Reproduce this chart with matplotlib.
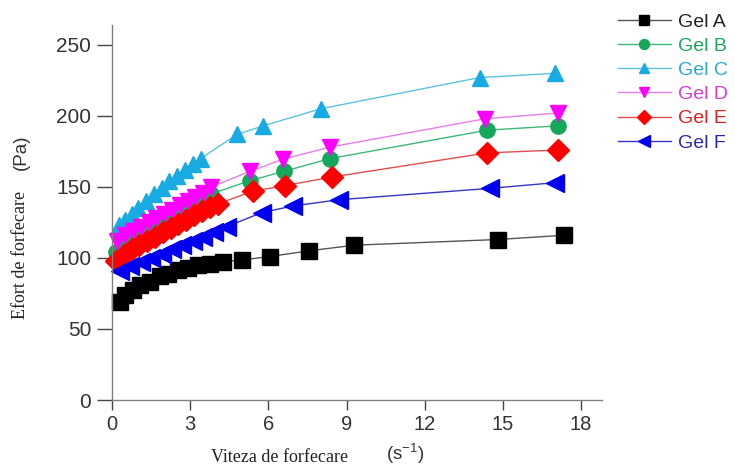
import matplotlib
matplotlib.use("Agg")
import matplotlib.pyplot as plt

# ---- data ----
gel_a_x = [0.3, 0.5, 0.8, 1.07, 1.45, 1.83, 2.15, 2.54, 2.92, 3.3, 3.75, 4.27, 4.98, 6.05, 7.54, 9.3, 14.8, 17.35]
gel_a_y = [69, 74, 77.5, 81, 83, 87, 89, 91.5, 92.7, 95, 96, 97.4, 98.6, 101, 105, 109, 113, 116]

gel_b_x = [0.15, 0.45, 0.75, 1.05, 1.35, 1.65, 1.95, 2.25, 2.55, 2.85, 3.15, 3.45, 3.8, 5.3, 6.6, 8.37, 14.4, 17.1]
gel_b_y = [104, 108, 111, 114, 118, 121, 124, 127, 130, 133, 136, 140, 145, 154.5, 161, 170, 190, 193]

gel_c_x = [0.25, 0.5, 0.75, 1.0, 1.3, 1.6, 1.9, 2.2, 2.5, 2.8, 3.1, 3.4, 4.8, 5.8, 8.0, 14.1, 17.0]
gel_c_y = [123, 127, 131, 135, 140, 145, 149, 154, 158, 162, 166, 170, 187, 193, 205, 227, 230]

gel_d_x = [0.2, 0.5, 0.8, 1.1, 1.4, 1.7, 2.0, 2.3, 2.6, 2.9, 3.2, 3.5, 3.8, 5.3, 6.55, 8.35, 14.3, 17.1]
gel_d_y = [112, 116, 119, 122, 125, 128, 131, 134, 137, 140, 143, 146, 150, 161, 169.5, 178, 198, 202]

gel_e_x = [0.15, 0.45, 0.75, 1.05, 1.35, 1.65, 1.95, 2.25, 2.55, 2.85, 3.15, 3.45, 3.75, 4.05, 5.4, 6.64, 8.44, 14.4, 17.1]
gel_e_y = [98, 102, 106, 109, 112, 115, 118, 121, 124, 127, 130, 133, 136, 138, 147, 151, 157, 174, 176]

gel_f_x = [0.3, 0.7, 1.1, 1.5, 1.9, 2.3, 2.7, 3.1, 3.5, 3.9, 4.4, 5.75, 6.94, 8.7, 14.5, 17.0]
gel_f_y = [91, 94, 97, 100, 103, 106, 109, 112, 115, 118, 122, 132, 136.6, 141, 149, 153]

labels = ["Gel A", "Gel B", "Gel C", "Gel D", "Gel E", "Gel F"]
x_ticks = [0, 3, 6, 9, 12, 15, 18]
y_ticks = [0, 50, 100, 150, 200, 250]

series = [(gel_a_x, gel_a_y), (gel_b_x, gel_b_y), (gel_c_x, gel_c_y),
          (gel_d_x, gel_d_y), (gel_e_x, gel_e_y), (gel_f_x, gel_f_y)]
markers = ["s", "o", "^", "v", "D", "<"]
marker_colors = ["#000000", "#16a85a", "#18aae3", "#ff00ff", "#ff0000", "#0000ee"]
line_colors = ["#555555", "#3cb878", "#5bc3e0", "#e77ee7", "#e05050", "#3535c0"]
text_colors = ["#222222", "#1fa65c", "#2aa9d6", "#d53dd5", "#e02020", "#2a2ab0"]
msizes = [11, 11, 12, 12, 11, 12.5]

fig = plt.figure(figsize=(7.35, 4.66), dpi=100)
ax = fig.add_axes([0.1524, 0.1416, 0.6667, 0.8047])

handles = []
for (xs, ys), m, mc, lc, ms, lab in zip(series, markers, marker_colors, line_colors, msizes, labels):
    h, = ax.plot(xs, ys, color=lc, lw=1.0, marker=m, markersize=ms,
                 markerfacecolor=mc, markeredgecolor=mc, label=lab, clip_on=False)
    handles.append(h)

ax.set_xlim(0, 18.8)
ax.set_ylim(0, 264)
ax.set_xticks(x_ticks)
ax.set_yticks(y_ticks)
for s in ["top", "right"]:
    ax.spines[s].set_visible(False)
for s in ["left", "bottom"]:
    ax.spines[s].set_color("#808080")
    ax.spines[s].set_linewidth(1.0)
ax.tick_params(axis="both", direction="out", width=1.0, color="#444444",
               labelcolor="#333333")
ax.tick_params(axis="y", length=11, pad=4, labelsize=15)
ax.tick_params(axis="x", length=7, pad=4, labelsize=14.5)
for t in ax.get_xticklabels() + ax.get_yticklabels():
    t.set_family(["Liberation Sans", "DejaVu Sans"])

# axis labels (serif text + sans units, as in the reference)
fig.text(21 / 735, 1 - 255 / 466, "Efort de forfecare", rotation=90, ha="center", va="center",
         family="Liberation Serif", fontsize=13, color="#222222")
fig.text(21 / 735, 1 - 152 / 466, "(Pa)", rotation=90, ha="center", va="center",
         family="Liberation Sans", fontsize=13.5, color="#333333")
fig.text(280 / 735, 1 - 458 / 466, "Viteza de forfecare", ha="center", va="center",
         family="Liberation Serif", fontsize=13, color="#222222")
fig.text(405 / 735, 1 - 454 / 466, "(s$^{\\mathregular{-1}}$)", ha="center", va="center",
         family="Liberation Sans", fontsize=13.5, color="#333333")

leg = fig.legend(handles=handles, labels=labels, loc="upper left",
                 bbox_to_anchor=(618 / 735, 1 - 13 / 466), frameon=False,
                 prop={"family": "Liberation Sans", "size": 14},
                 handlelength=2.7, handletextpad=0.4, labelspacing=0.34,
                 markerscale=0.65, borderaxespad=0, borderpad=0)
for t, c in zip(leg.get_texts(), text_colors):
    t.set_color(c)

fig.savefig("out.png", dpi=100)
